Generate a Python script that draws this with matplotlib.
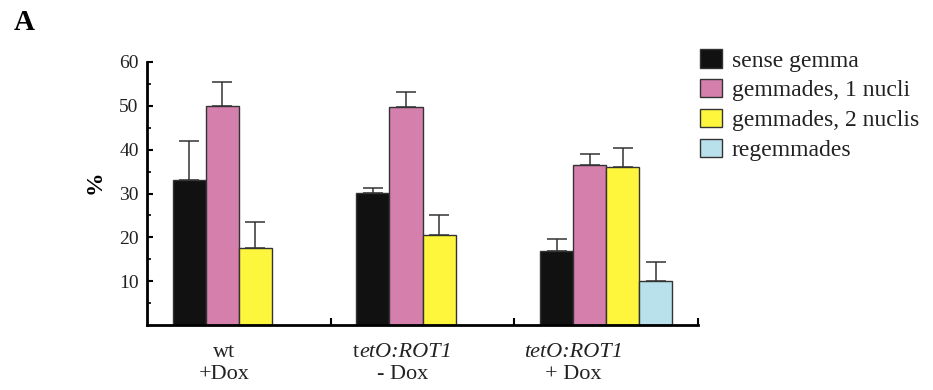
import matplotlib.pyplot as plt
import numpy as np
from matplotlib.patches import Patch
from matplotlib.offsetbox import TextArea, HPacker, VPacker, AnnotationBbox

plt.rcParams["font.family"] = ["Liberation Serif", "DejaVu Serif"]

series = ["sense gemma", "gemmades, 1 nucli", "gemmades, 2 nuclis", "regemmades"]
colors = ["#111111", "#d47fac", "#fdf63c", "#b9e1ec"]

# group labels: (upright part, italic part) for first line, second line
label_line1 = [("wt", ""), ("t", "etO:ROT1"), ("", "tetO:ROT1")]
label_line2 = ["+Dox", "- Dox", "+ Dox"]
label_x = [0.42, 1.39, 2.32]

# values per series, one per group (nan = no bar)
sense = [33.1, 30.1, 16.9]
nucli1 = [50.0, 49.8, 36.5]
nucli2 = [17.5, 20.5, 36.1]
regem = [np.nan, np.nan, 10.0]
values = [sense, nucli1, nucli2, regem]

# upper error bar tops
sense_top = [42.0, 31.3, 19.6]
nucli1_top = [55.4, 53.2, 39.0]
nucli2_top = [23.5, 25.1, 40.4]
regem_top = [np.nan, np.nan, 14.4]
tops = [sense_top, nucli1_top, nucli2_top, regem_top]

fig = plt.figure(figsize=(9.33, 3.9), dpi=100)
ax = fig.add_axes([147 / 933, 1 - 325 / 390, (698 - 147) / 933, (325 - 62) / 390])

width = 0.18
offset = 0.14
x0 = np.arange(len(label_line2))
for k, (vals, tp, col) in enumerate(zip(values, tops, colors)):
    v = np.array(vals)
    t = np.array(tp)
    mask = ~np.isnan(v)
    xs = x0[mask] + offset + k * width
    ax.bar(xs, v[mask], width=width, align="edge", color=col,
           edgecolor="#333333", linewidth=1.0, zorder=2)
    err = t[mask] - v[mask]
    ax.errorbar(xs + width / 2, v[mask], yerr=[np.zeros_like(err), err],
                fmt="none", ecolor="#333333", elinewidth=1.1, capsize=7,
                capthick=1.1, zorder=1)

ax.set_xlim(0, 3)
ax.set_ylim(0, 60)
ax.set_yticks([10, 20, 30, 40, 50, 60])
ax.set_yticks(np.arange(5, 60, 10), minor=True)
ax.set_xticks([1, 2, 3])
ax.set_xticklabels([])
ax.tick_params(axis="y", which="major", direction="in", length=4, width=1.5,
               labelsize=14, pad=6, labelcolor="#222222")
ax.tick_params(axis="y", which="minor", direction="in", length=3, width=1.2)
ax.tick_params(axis="x", direction="in", length=5, width=1.5)
for s in ["top", "right"]:
    ax.spines[s].set_visible(False)
for s in ["left", "bottom"]:
    ax.spines[s].set_linewidth(2)

fig.text(95 / 933, 1 - 182 / 390, "%", fontsize=17, fontweight="bold",
         rotation=90, ha="center", va="center")

fs = 16
for lx, (up, it), l2 in zip(label_x, label_line1, label_line2):
    parts = []
    if up:
        parts.append(TextArea(up, textprops=dict(fontsize=fs, color="#222222")))
    if it:
        parts.append(TextArea(it, textprops=dict(fontsize=fs, style="italic", color="#222222")))
    row1 = HPacker(children=parts, pad=0, sep=0, align="baseline")
    row2 = TextArea(l2, textprops=dict(fontsize=fs, color="#222222"))
    box = VPacker(children=[row1, row2], pad=0, sep=2, align="center")
    ab = AnnotationBbox(box, (lx, 0), xybox=(lx, -0.07),
                        xycoords=("data", "axes fraction"),
                        boxcoords=("data", "axes fraction"),
                        box_alignment=(0.5, 1.0), frameon=False, pad=0)
    ax.add_artist(ab)

handles = [Patch(facecolor=c, edgecolor="#333333", linewidth=1.0) for c in colors]
fig.legend(handles, series, loc="upper left", bbox_to_anchor=(691 / 933, 1 - 40 / 390),
           frameon=False, fontsize=17, handlelength=0.9, handleheight=0.8,
           handletextpad=0.42, labelspacing=0.32, borderaxespad=0,
           labelcolor="#222222")

fig.text(24 / 933, 1 - 22 / 390, "A", fontsize=21, fontweight="bold",
         ha="center", va="center")

fig.savefig("out.png", dpi=100)
